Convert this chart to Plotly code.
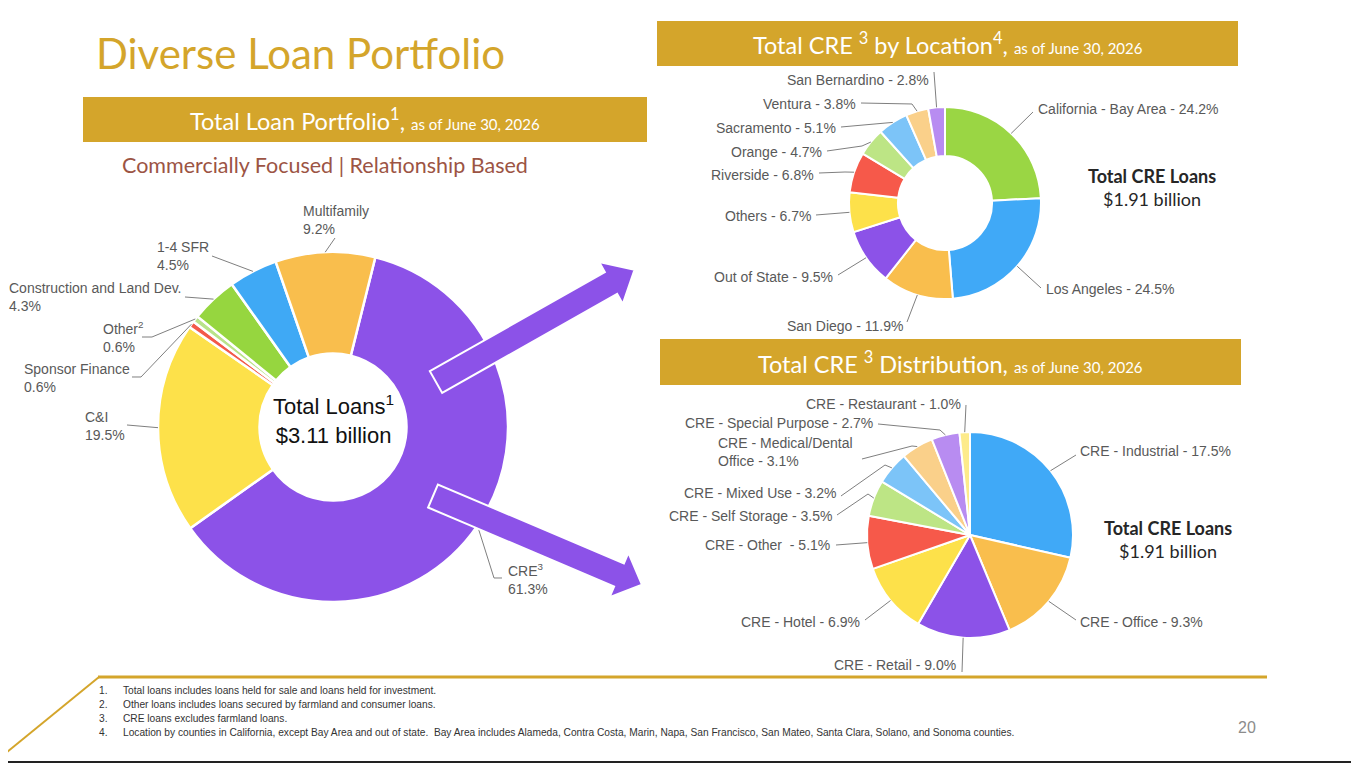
import math
import plotly.graph_objects as go

# Slide size in pixels (everything below is laid out in pixels, then converted to paper coords)
W, H = 1359, 764
# the page body adds an 8px margin around the figure, so shift everything back by that
OX, OY = 8, 8

GOLD = '#D4A52B'
LABEL_GREY = '#595959'
LABEL_FONT = 'Liberation Sans, Arial, sans-serif'
HEAD_FONT = 'Lato, Open Sans, sans-serif'

# ---------------- Data ----------------
# Total loan portfolio (% of total loans)
loan_names = ['CRE<sup>3</sup>', 'C&I', 'Sponsor Finance', 'Other<sup>2</sup>',
              'Construction and Land Dev.', '1-4 SFR', 'Multifamily']
loan_pct = [61.3, 19.5, 0.6, 0.6, 4.3, 4.5, 9.2]
loan_colors = ['#8C52E8', '#FDE14A', '#F3594A', '#B9E38A', '#96D63F', '#3FA9F5', '#F9BE4D']

# Total CRE by location (% of CRE)
loc_names = ['California - Bay Area', 'Los Angeles', 'San Diego', 'Out of State', 'Others',
             'Riverside', 'Orange', 'Sacramento', 'Ventura', 'San Bernardino']
loc_pct = [24.2, 24.5, 11.9, 9.5, 6.7, 6.8, 4.7, 5.1, 3.8, 2.8]
loc_colors = ['#9AD644', '#40A9F7', '#F9BE4D', '#8C52E8', '#FDE14A',
              '#F6594A', '#BDE585', '#7CC4F8', '#FAD08A', '#B88CF1']

# Total CRE distribution (% of total loans)
cre_names = ['CRE - Industrial', 'CRE - Office', 'CRE - Retail', 'CRE - Hotel', 'CRE - Other ',
             'CRE - Self Storage', 'CRE - Mixed Use', 'CRE - Medical/Dental<br>Office',
             'CRE - Special Purpose', 'CRE - Restaurant']
cre_pct = [17.5, 9.3, 9.0, 6.9, 5.1, 3.5, 3.2, 3.1, 2.7, 1.0]
cre_colors = ['#40A9F7', '#F9BE4D', '#8C52E8', '#FDE14A', '#F6594A',
              '#BDE585', '#7CC4F8', '#FAD08A', '#B88CF1', '#FDEB8B']

footnotes = [
    'Total loans includes loans held for sale and loans held for investment.',
    'Other loans includes loans secured by farmland and consumer loans.',
    'CRE loans excludes farmland loans.',
    'Location by counties in California, except Bay Area and out of state.  Bay Area includes Alameda, '
    'Contra Costa, Marin, Napa, San Francisco, San Mateo, Santa Clara, Solano, and Sonoma counties.',
]


def px(x):
    return (x - OX) / W


def py(y):
    return 1 - (y - OY) / H


def domain(cx, cy, r):
    return dict(x=[px(cx - r), px(cx + r)], y=[py(cy + r), py(cy - r)])


def edge_point(values, i, cx, cy, r, rotation):
    # middle of slice i on the outer edge, clockwise from 12 o'clock
    total = sum(values)
    mid = rotation + 360 * (sum(values[:i]) + values[i] / 2) / total
    a = math.radians(mid)
    return cx + r * math.sin(a), cy - r * math.cos(a)


def path_of(points, close=False):
    s = 'M ' + ' L '.join(f'{px(x):.5f},{py(y):.5f}' for x, y in points)
    return s + (' Z' if close else '')


fig = go.Figure()

# pie geometry (centre x, centre y, radius, rotation)
big = (333, 427, 175, 14)
top = (945, 203, 96, 0)
bot = (970, 535, 103, 0)

fig.add_trace(go.Pie(labels=loan_names, values=loan_pct, hole=0.42, sort=False,
                     direction='clockwise', rotation=big[3], textinfo='none',
                     marker=dict(colors=loan_colors, line=dict(color='white', width=2.5)),
                     domain=domain(*big[:3]), showlegend=False))
fig.add_trace(go.Pie(labels=loc_names, values=loc_pct, hole=0.49, sort=False,
                     direction='clockwise', rotation=top[3], textinfo='none',
                     marker=dict(colors=loc_colors, line=dict(color='white', width=2)),
                     domain=domain(*top[:3]), showlegend=False))
fig.add_trace(go.Pie(labels=cre_names, values=cre_pct, sort=False,
                     direction='clockwise', rotation=bot[3], textinfo='none',
                     marker=dict(colors=cre_colors, line=dict(color='white', width=2)),
                     domain=domain(*bot[:3]), showlegend=False))

shapes = []
annotations = []


def text(x, y, s, size=14, color=LABEL_GREY, family=LABEL_FONT, xanchor='left', align=None):
    annotations.append(dict(x=px(x), y=py(y), xref='paper', yref='paper', text=s,
                            showarrow=False, xanchor=xanchor, yanchor='middle',
                            align=align or xanchor, font=dict(size=size, color=color, family=family)))


def labels(names, values, geo, layout, fmt):
    cx, cy, r, rot = geo
    for i, (name, v) in enumerate(zip(names, values)):
        tx, ty, anchor, pts = layout[i]
        text(tx, ty, fmt(name, v), xanchor=anchor)
        ex, ey = edge_point(values, i, cx, cy, r, rot)
        shapes.append(dict(type='path', xref='paper', yref='paper',
                           path=path_of(pts + [(ex, ey)]),
                           line=dict(color='#7F7F7F', width=1)))


# label positions: (x, y, anchor, leader line points before the slice edge)
big_layout = [
    (506, 579, 'left', [(502, 578), (494, 578)]),
    (83, 426, 'left', [(127, 425)]),
    (22, 378, 'left', [(132, 377), (141, 377)]),
    (101, 337, 'left', [(142, 337), (152, 337)]),
    (7, 297, 'left', [(185, 297)]),
    (155, 256, 'left', [(212, 256)]),
    (301, 220, 'left', [(335, 238)]),
]
top_layout = [
    (1036, 109, 'left', [(1033, 112)]),
    (1044, 289, 'left', [(1041, 288)]),
    (905, 326, 'right', [(907, 322)]),
    (835, 277, 'right', [(838, 275)]),
    (813, 216, 'right', [(816, 215)]),
    (816, 175, 'right', [(819, 173), (845, 172)]),
    (824, 152, 'right', [(827, 151), (862, 146)]),
    (838, 128, 'right', [(841, 127), (886, 123)]),
    (858, 104, 'right', [(861, 103), (912, 104)]),
    (931, 80, 'right', [(934, 72)]),
]
bot_layout = [
    (1078, 451, 'left', [(1076, 455)]),
    (1078, 622, 'left', [(1076, 620)]),
    (958, 665, 'right', [(962, 672)]),
    (862, 622, 'right', [(865, 620)]),
    (832, 545, 'right', [(836, 545)]),
    (834, 516, 'right', [(837, 515), (868, 494)]),
    (838, 493, 'right', [(841, 496), (885, 465)]),
    (716, 452, 'left', [(862, 459), (912, 446)]),
    (875, 423, 'right', [(878, 424), (940, 430)]),
    (963, 404, 'right', [(966, 405)]),
]

labels(loan_names, loan_pct, big, big_layout, lambda n, v: f'{n}<br>{v:.1f}%')
labels(loc_names, loc_pct, top, top_layout, lambda n, v: f'{n} - {v:.1f}%')
labels(cre_names, cre_pct, bot, bot_layout, lambda n, v: f'{n} - {v:.1f}%')

# centre / side texts
text(333, 420, 'Total Loans<sup>1</sup><br>$3.11 billion', size=22, color='#111111', xanchor='center')
for (x, y) in [(1152, 187), (1168, 539)]:
    text(x, y, '<b>Total CRE Loans</b><br>$1.91 billion', size=18, color='#262626',
         family=HEAD_FONT, xanchor='center')

# title and gold header bars
text(94, 53, 'Diverse Loan Portfolio', size=42, color=GOLD, family=HEAD_FONT)
small = "<span style='font-size:15px'>as of June 30, 2026</span>"
bars = [
    ((83, 97, 647, 142), 'Total Loan Portfolio<sup>1</sup>, ' + small),
    ((657, 21, 1238, 66), 'Total CRE <sup>3</sup> by Location<sup>4</sup>, ' + small),
    ((660, 339, 1241, 385), 'Total CRE <sup>3</sup> Distribution, ' + small),
]
for (x0, y0, x1, y1), s in bars:
    shapes.append(dict(type='rect', xref='paper', yref='paper', x0=px(x0), x1=px(x1),
                       y0=py(y1), y1=py(y0), fillcolor=GOLD, line=dict(width=0), layer='below'))
    text((x0 + x1) / 2, (y0 + y1) / 2, s, size=23.5, color='white', family=HEAD_FONT, xanchor='center')

text(325, 165, 'Commercially Focused | Relationship Based', size=21.5, color='#9C5444',
     family=HEAD_FONT, xanchor='center')


# purple arrows from the CRE slice to the CRE charts
def arrow(tail, base, tip_len, shaft_hw, head_hw):
    dx, dy = base[0] - tail[0], base[1] - tail[1]
    n = math.hypot(dx, dy)
    ux, uy = dx / n, dy / n
    nx, ny = -uy, ux
    pts = [(tail[0] + nx * shaft_hw, tail[1] + ny * shaft_hw),
           (base[0] + nx * shaft_hw, base[1] + ny * shaft_hw),
           (base[0] + nx * head_hw, base[1] + ny * head_hw),
           (base[0] + ux * tip_len, base[1] + uy * tip_len),
           (base[0] - nx * head_hw, base[1] - ny * head_hw),
           (base[0] - nx * shaft_hw, base[1] - ny * shaft_hw),
           (tail[0] - nx * shaft_hw, tail[1] - ny * shaft_hw)]
    return dict(type='path', xref='paper', yref='paper', path=path_of(pts, close=True),
                fillcolor='#8C52E8', line=dict(color='white', width=2), layer='above')


shapes.append(arrow((436, 382), (611, 283), 27, 12.5, 24))
shapes.append(arrow((433, 496), (619, 575), 25, 12.5, 24))

# footer lines
shapes.append(dict(type='line', xref='paper', yref='paper', x0=px(98), y0=py(677), x1=px(1267), y1=py(677),
                   line=dict(color=GOLD, width=3)))
shapes.append(dict(type='line', xref='paper', yref='paper', x0=px(99), y0=py(677), x1=px(1), y1=py(757),
                   line=dict(color=GOLD, width=2)))
shapes.append(dict(type='line', xref='paper', yref='paper', x0=0, y0=py(762), x1=1, y1=py(762),
                   line=dict(color='#222222', width=2)))

for i, note in enumerate(footnotes):
    y = 690 + 14 * i
    text(97, y, f'{i + 1}.', size=10.2, color='#333333')
    text(121, y, note, size=10.2, color='#333333')

text(1247, 727, '20', size=16, color='#8C8C8C', xanchor='center')

fig.update_layout(
    width=W, height=H,
    autosize=False,
    margin=dict(l=0, r=0, t=0, b=0),
    paper_bgcolor='white',
    plot_bgcolor='white',
    shapes=shapes,
    annotations=annotations,
)

fig.write_html('out.html')
